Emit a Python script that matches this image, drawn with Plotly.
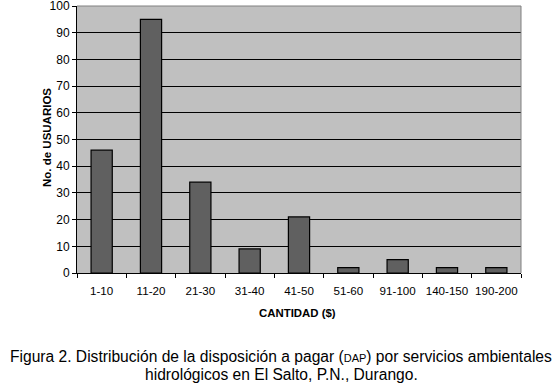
import plotly.graph_objects as go

categories = ["1-10", "11-20", "21-30", "31-40", "41-50", "51-60", "91-100", "140-150", "190-200"]
usuarios = [46, 95, 34, 9, 21, 2, 5, 2, 2]
y_ticks = [0, 10, 20, 30, 40, 50, 60, 70, 80, 90, 100]

W, H = 559, 388
L, R, T, B = 77, 38, 6, 115

fig = go.Figure()
fig.add_trace(go.Bar(
    x=categories, y=usuarios,
    marker=dict(color="#606060", line=dict(color="#000000", width=1.2)),
    width=0.43,
))

pw, ph = W - L - R, H - T - B
def px(x): return (x - L) / pw
def py(y): return (H - B - y) / ph

texts = [
    ("<b>No. de USUARIOS</b>", 47, 138, 11.5, -90),
    ("<b>CANTIDAD ($)</b>", 297.5, 313, 11.4, 0),
    ("Figura 2. Distribución de la disposición a pagar (<span style='font-size:11px'>DAP</span>) por servicios ambientales", 281, 357, 15.6, 0),
    ("hidrológicos en El Salto, P.N., Durango.", 281, 374, 15.6, 0),
]
annotations = [
    dict(text=t, x=px(x), y=py(y), xref="paper", yref="paper", showarrow=False,
         textangle=a, font=dict(size=s), xanchor="center", yanchor="middle")
    for t, x, y, s, a in texts
]

fig.update_layout(
    width=W, height=H,
    margin=dict(l=L, r=R, t=T, b=B),
    paper_bgcolor="white",
    plot_bgcolor="#c0c0c0",
    showlegend=False,
    font=dict(family="Liberation Sans, Arial, sans-serif", size=12, color="#000000"),
    xaxis=dict(
        type="category", tickson="boundaries", ticks="outside", ticklen=4,
        tickcolor="#000", showline=True, linecolor="#000", linewidth=1,
        showgrid=False, tickfont=dict(size=11.6), tickangle=0, automargin=False,
        ticklabelstandoff=7,
    ),
    yaxis=dict(
        range=[0, 100], tickvals=y_ticks, ticks="outside", ticklen=4,
        tickcolor="#000", showline=True, linecolor="#000", linewidth=1,
        showgrid=True, gridcolor="#000000", gridwidth=1, zeroline=False,
        tickfont=dict(size=12), ticklabeloverflow="allow", automargin=False,
    ),
    shapes=[
        dict(type="line", xref="paper", yref="paper", x0=0, x1=1, y0=1, y1=1,
             line=dict(color="#808080", width=1)),
        dict(type="line", xref="paper", yref="paper", x0=1, x1=1, y0=0, y1=1,
             line=dict(color="#808080", width=1)),
    ],
    annotations=annotations,
)

fig.write_html("out.html", config={"displayModeBar": False},
               post_script="document.body.style.margin='0';")
